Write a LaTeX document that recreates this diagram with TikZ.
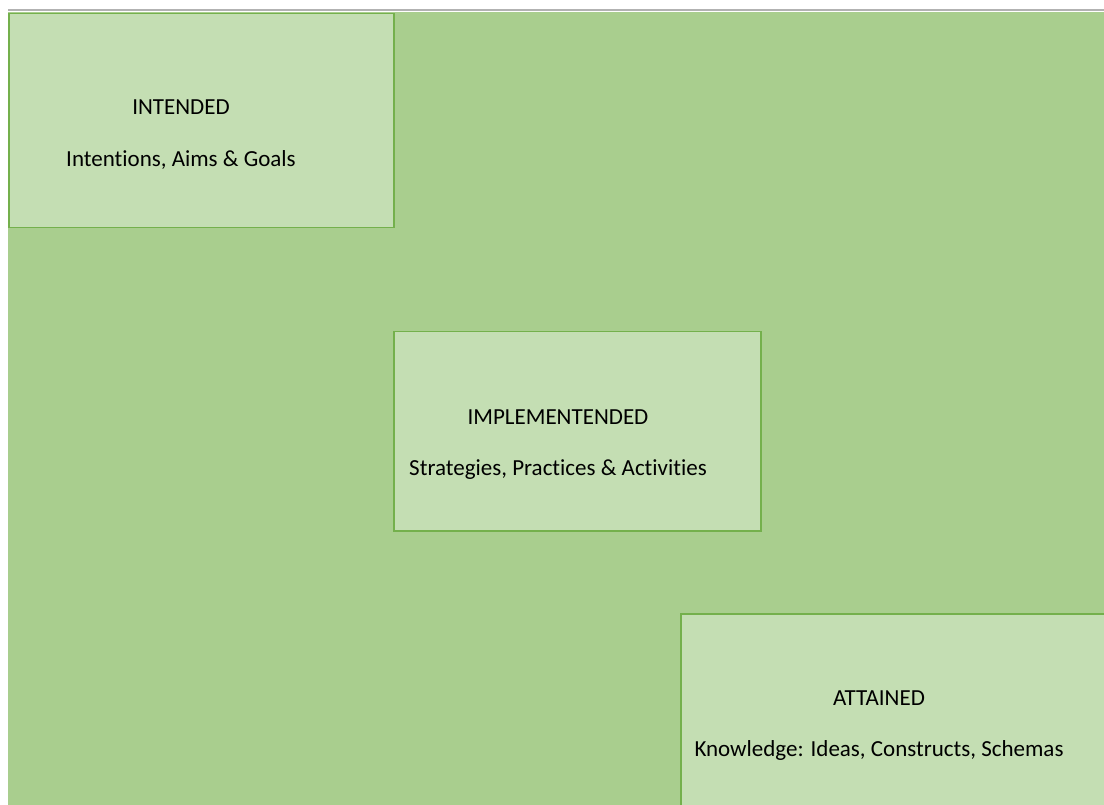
\documentclass[tikz,border=0pt]{standalone}
\usepackage{fontspec}
\setmainfont[Ligatures=NoCommon]{Carlito}

\definecolor{sheetgreen}{HTML}{A9CE8E}
\definecolor{boxgreen}{HTML}{C4DEB3}
\definecolor{edgegreen}{HTML}{74B04C}

\tikzset{
  stage/.style={draw=edgegreen, line width=1.5pt, fill=boxgreen, inner sep=0pt, anchor=north west},
  stagetext/.style={font=\fontsize{23}{27}\selectfont, inner sep=0pt},
}

\begin{document}
\begin{tikzpicture}[x=1pt,y=-1pt]
\clip (0,0) rectangle (1104,805);
\fill[white] (0,0) rectangle (1104,805);
\fill[sheetgreen] (8,12) rectangle (1104,805);
\draw[gray!60, line width=2pt] (8,10) -- (1104,10);

% the three stages
\node[stage, minimum width=385pt, minimum height=214pt] (intended) at (8,13) {};
\node[stage, minimum width=367pt, minimum height=199pt] (implemented) at (393,331) {};
\node[stage, minimum width=440pt, minimum height=220pt] (attained) at (680,613) {};

\node[stagetext] (intended-title) at (181,107) {INTENDED};
\node[stagetext] (intended-text) at (181,160) {Intentions, Aims \& Goals};

\node[stagetext] (implemented-title) at (558,417) {IMPLEMENTENDED};
\node[stagetext] (implemented-text) at (558,470) {Strategies, Practices \& Activities};

\node[stagetext] (attained-title) at (879,698) {ATTAINED};
\node[stagetext] (attained-text) at (879,750) {Knowledge: Ideas, Constructs, Schemas};
\end{tikzpicture}
\end{document}
